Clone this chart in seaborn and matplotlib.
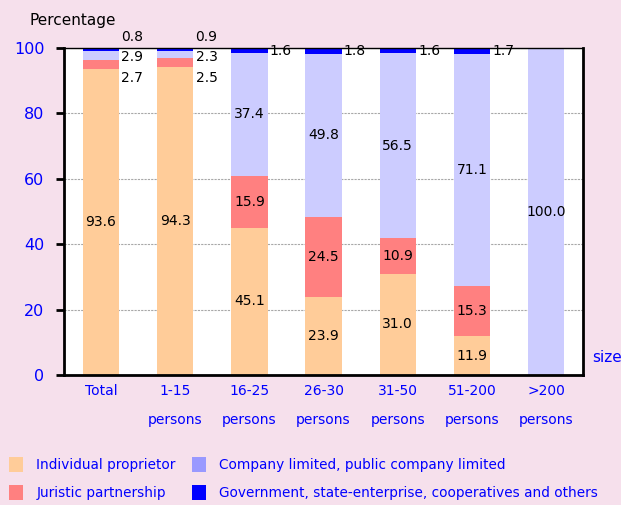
import numpy as np
import pandas as pd
import matplotlib.pyplot as plt
import seaborn as sns
from matplotlib.patches import Patch

categories = ["Total", "1-15\npersons", "16-25\npersons", "26-30\npersons",
              "31-50\npersons", "51-200\npersons", ">200\npersons"]
individual = [93.6, 94.3, 45.1, 23.9, 31.0, 11.9, 0.0]
juristic = [2.7, 2.5, 15.9, 24.5, 10.9, 15.3, 0.0]
company = [2.9, 2.3, 37.4, 49.8, 56.5, 71.1, 100.0]
government = [0.8, 0.9, 1.6, 1.8, 1.6, 1.7, 0.0]

series = ["Individual proprietor", "Juristic partnership",
          "Company limited, public company limited",
          "Government, state-enterprise, cooperatives and others"]
bar_colors = ["#FFCC99", "#FF8080", "#CCCCFF", "#0000FF"]
legend_colors = ["#FFCC99", "#FF8080", "#9999FF", "#0000FF"]

df = pd.DataFrame({"cat": categories, series[0]: individual, series[1]: juristic,
                   series[2]: company, series[3]: government})

sns.set_style("white")
plt.rcParams['font.family'] = ['DejaVu Sans']
plt.rcParams['text.color'] = 'black'
bg = "#F6E0EC"
fig = plt.figure(figsize=(6.21, 5.05), dpi=100, facecolor=bg)
ax = fig.add_axes([0.103, 0.257, 0.836, 0.648])
ax.set_facecolor("white")

bottom = np.zeros(len(categories))
for s, c in zip(series, bar_colors):
    sns.barplot(data=df, x="cat", y=s, color=c, bottom=bottom, width=0.49,
                saturation=1, ax=ax, linewidth=0)
    bottom = bottom + df[s].values

ax.set_xlim(-0.5, 6.5)
ax.set_ylim(0, 100)
ax.set_xlabel("")
ax.set_ylabel("")
ax.set_yticks([0, 20, 40, 60, 80, 100])
ax.yaxis.grid(True, linestyle=(0, (2, 1)), color="#A8A8A8", linewidth=0.8)
ax.set_axisbelow(True)
ax.tick_params(axis="y", direction="out", length=6, width=2, colors="black",
               labelcolor="#0000FF", labelsize=11.5, left=True, pad=8)
ax.set_xticks(range(len(categories)))
ax.set_xticklabels(categories, color="#0000FF", fontsize=10, linespacing=2.4, va="top")
ax.tick_params(axis="x", length=0, pad=6)
ax.set_xticks(np.arange(-0.5, 7, 1), minor=True)
ax.tick_params(axis="x", which="minor", direction="out", length=6, width=2, color="black")
for side, lw in [("left", 2), ("bottom", 2), ("top", 1), ("right", 2)]:
    ax.spines[side].set_visible(True)
    ax.spines[side].set_color("black")
    ax.spines[side].set_linewidth(lw)

# value labels
hw = 0.245
for i in range(len(categories)):
    vals = [individual[i], juristic[i], company[i], government[i]]
    base = 0
    for j, v in enumerate(vals):
        if v >= 10:
            ax.text(i, base + v / 2, f"{v:.1f}", ha="center", va="center", fontsize=10)
        base += v
    if individual[i] > 90:
        ax.text(i + hw + 0.03, 103.4, f"{government[i]:.1f}", ha="left", va="center",
                fontsize=10, clip_on=False)
        ax.text(i + hw + 0.03, 97.2, f"{company[i]:.1f}", ha="left", va="center", fontsize=10)
        ax.text(i + hw + 0.03, 90.8, f"{juristic[i]:.1f}", ha="left", va="center", fontsize=10)
    elif government[i] > 0:
        ax.text(i + hw + 0.03, 99.0, f"{government[i]:.1f}", ha="left", va="center", fontsize=10)

fig.text(0.048, 0.96, "Percentage", fontsize=11, ha="left", va="center")
fig.text(0.953, 0.293, "size", fontsize=11, color="#0000FF", ha="left", va="center")

handles = [Patch(facecolor=c, edgecolor="none") for c in legend_colors]
fig.legend(handles, series, ncol=2, loc="lower left", bbox_to_anchor=(-0.005, -0.015),
           frameon=False, labelcolor="#0000FF", fontsize=9.8, handlelength=1.0,
           handleheight=1.3, handletextpad=1.0, columnspacing=1.2, labelspacing=1.0)

fig.savefig("out.png", dpi=100, facecolor=bg)
